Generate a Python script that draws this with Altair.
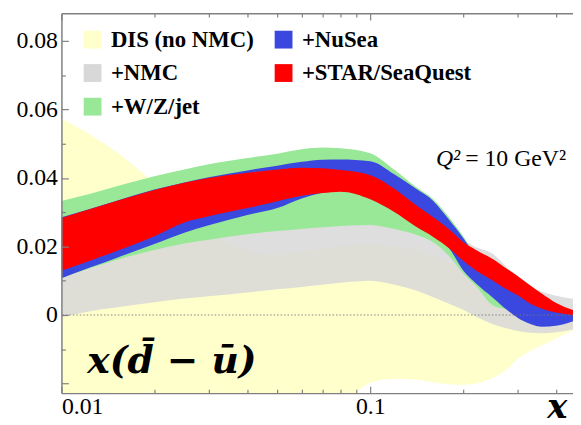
import altair as alt
import pandas as pd

# ---------------- data ----------------
X = [0.01, 0.0125, 0.015, 0.02, 0.025, 0.03, 0.04, 0.05, 0.06, 0.07, 0.08, 0.1,
     0.12, 0.14, 0.16, 0.18, 0.2, 0.22, 0.25, 0.28, 0.3, 0.33, 0.36, 0.4, 0.46]

DIS_LO = [-0.030, -0.030, -0.030, -0.030, -0.030, -0.030, -0.030, -0.030, -0.030, -0.030,
          -0.0265, -0.0198, -0.0186, -0.0188, -0.0196, -0.0202, -0.0204, -0.0200, -0.0183,
          -0.0155, -0.0128, -0.0105, -0.0088, -0.0068, -0.0042]
DIS_HI = [0.0573, 0.0525, 0.0477, 0.0385, 0.0310, 0.0245, 0.0188, 0.0174, 0.0183, 0.0195,
          0.0202, 0.0206, 0.0198, 0.0190, 0.0172, 0.0153, 0.0125, 0.0095, 0.0055, 0.0025,
          0.0010, -0.0005, -0.0012, -0.0012, -0.0010]

NMC_LO = [-0.0006, 0.0012, 0.0022, 0.0037, 0.0048, 0.0055, 0.0066, 0.0075, 0.0082, 0.0088,
          0.0094, 0.0100, 0.0088, 0.0072, 0.0052, 0.0033, 0.0015, -0.0005, -0.0027, -0.0040,
          -0.0047, -0.0052, -0.0053, -0.0050, -0.0041]
NMC_HI = [0.0120, 0.0140, 0.0160, 0.0192, 0.0212, 0.0226, 0.0242, 0.0250, 0.0256, 0.0260,
          0.0263, 0.0266, 0.0260, 0.0245, 0.0226, 0.0218, 0.0215, 0.0198, 0.0178, 0.0135,
          0.0110, 0.0085, 0.0068, 0.0056, 0.0047]

WZ_LO = [0.0108, 0.0138, 0.0160, 0.0190, 0.0209, 0.0220, 0.0236, 0.0245, 0.0251, 0.0256,
         0.0260, 0.0263, 0.0251, 0.0235, 0.0212, 0.0172, 0.0122, 0.0085, 0.0028, 0.0015,
         0.0000, -0.0010, -0.0015, -0.0015, -0.0010]
WZ_HI = [0.0333, 0.0355, 0.0375, 0.0405, 0.0425, 0.0440, 0.0458, 0.0471, 0.0484, 0.0489,
         0.0487, 0.0472, 0.0423, 0.0375, 0.0338, 0.0285, 0.0230, 0.0175, 0.0125, 0.0085,
         0.0065, 0.0040, 0.0025, 0.0012, 0.0000]

NUSEA_LO = [0.0107, 0.0140, 0.0166, 0.0207, 0.0240, 0.0262, 0.0292, 0.0312, 0.0340, 0.0357,
            0.0365, 0.0345, 0.0305, 0.0265, 0.0232, 0.0195, 0.0130, 0.0092, 0.0050, 0.0012,
            -0.0008, -0.0026, -0.0034, -0.0031, -0.0016]
NUSEA_HI = [0.0285, 0.0311, 0.0333, 0.0366, 0.0387, 0.0402, 0.0422, 0.0436, 0.0447, 0.0453,
            0.0454, 0.0449, 0.0410, 0.0370, 0.0333, 0.0278, 0.0225, 0.0170, 0.0120, 0.0090,
            0.0075, 0.0050, 0.0035, 0.0020, 0.0008]

STAR_LO = [0.0129, 0.0160, 0.0186, 0.0230, 0.0270, 0.0288, 0.0312, 0.0332, 0.0348, 0.0356,
           0.0360, 0.0338, 0.0300, 0.0259, 0.0228, 0.0195, 0.0158, 0.0130, 0.0100, 0.0072,
           0.0058, 0.0033, 0.0018, 0.0007, -0.0001]
STAR_HI = [0.0283, 0.0310, 0.0332, 0.0365, 0.0386, 0.0400, 0.0415, 0.0425, 0.0430, 0.0428,
           0.0423, 0.0408, 0.0368, 0.0322, 0.0285, 0.0250, 0.0213, 0.0190, 0.0163, 0.0132,
           0.0114, 0.0086, 0.0062, 0.0035, 0.0013]

# legend order (filled column by column: 3 + 2)
SERIES = ["DIS (no NMC)", "+NMC", "+W/Z/jet", "+NuSea", "+STAR/SeaQuest"]
COLORS = ["#FFFFCC", "#D8D8D8", "#98E898", "#3A48E0", "#FF0000"]

Y_LABELS = [0, 0.02, 0.04, 0.06, 0.08]
Y_MAJOR = [-0.02, 0, 0.02, 0.04, 0.06, 0.08]
Y_MINOR = [-0.01, 0.01, 0.03, 0.05, 0.07]
X_MAJOR = [0.01, 0.1]
X_MINOR = [0.02, 0.03, 0.04, 0.05, 0.06, 0.07, 0.08, 0.09, 0.2, 0.3, 0.4]

SERIF = "Liberation Serif, serif"
W, H = 517, 384

xscale = alt.Scale(type="log", domain=[0.01, 0.4535], nice=False)
yscale = alt.Scale(domain=[-0.0228, 0.0881], nice=False, zero=False)
cscale = alt.Scale(domain=SERIES, range=COLORS)

legend = alt.Legend(
    orient="none", legendX=20, legendY=15, columns=2, title=None,
    symbolType="square", symbolSize=324, symbolStrokeWidth=0, symbolOpacity=1,
    labelFont=SERIF, labelFontWeight="bold", labelFontSize=23,
    labelColor="black", labelOffset=7, labelLimit=0,
    rowPadding=10, columnPadding=18, padding=0,
)

AX = dict(domainColor="#808080", tickColor="#808080", domainWidth=1.5,
          tickWidth=1.2, grid=False, title=None, zindex=1)

x_lab = alt.Axis(orient="bottom", values=X_MAJOR, ticks=False, domain=True,
                 labelExpr="format(datum.value, '~g')", labelFont=SERIF,
                 labelFontSize=24, labelColor="black", labelPadding=2, **AX)
x_in_major = alt.Axis(orient="top", offset=-H, values=X_MAJOR, labels=False,
                      domain=False, tickSize=7, **AX)
x_in_minor = alt.Axis(orient="top", offset=-H, values=X_MINOR, labels=False,
                      domain=False, tickSize=4, **AX)
x_top_major = alt.Axis(orient="bottom", offset=-H, values=X_MAJOR, labels=False,
                       domain=True, tickSize=7, **AX)
x_top_minor = alt.Axis(orient="bottom", offset=-H, values=X_MINOR, labels=False,
                       domain=False, tickSize=4, **AX)

y_lab = alt.Axis(orient="left", values=Y_LABELS, ticks=False, domain=True,
                 labelExpr="datum.value == 0 ? '0' : format(datum.value, '.2f')",
                 labelFont=SERIF, labelFontSize=24, labelColor="black",
                 labelPadding=4, **AX)
y_in_major = alt.Axis(orient="right", offset=-W, values=Y_MAJOR, labels=False,
                      domain=False, tickSize=7, **AX)
y_in_minor = alt.Axis(orient="right", offset=-W, values=Y_MINOR, labels=False,
                      domain=False, tickSize=4, **AX)


def band(name, lo, hi, xaxis, yaxis, opacity=1.0):
    df = pd.DataFrame({"x": X, "lo": lo, "hi": hi, "series": name})
    return alt.Chart(df).mark_area(clip=True, interpolate="monotone", opacity=opacity).encode(
        x=alt.X("x:Q", scale=xscale, axis=xaxis),
        y=alt.Y("lo:Q", scale=yscale, axis=yaxis),
        y2="hi:Q",
        color=alt.Color("series:N", scale=cscale, legend=legend),
    )


l_dis = band("DIS (no NMC)", DIS_LO, DIS_HI, x_lab, y_lab)
l_nmc = band("+NMC", NMC_LO, NMC_HI, x_in_major, y_in_major, opacity=0.85)
l_wz = band("+W/Z/jet", WZ_LO, WZ_HI, x_in_minor, y_in_minor)
l_nusea = band("+NuSea", NUSEA_LO, NUSEA_HI, x_top_major, None)
l_star = band("+STAR/SeaQuest", STAR_LO, STAR_HI, x_top_minor, None)

zero = alt.Chart(pd.DataFrame({"y": [0.0]})).mark_rule(
    color="#777777", strokeWidth=0.9, strokeDash=[1.5, 2]
).encode(y=alt.Y("y:Q", scale=yscale, axis=None))


def label(x, y, t, **kw):
    df = pd.DataFrame({"x": [x], "y": [y], "t": [t]})
    return alt.Chart(df).mark_text(**kw).encode(
        x=alt.X("x:Q", scale=xscale, axis=None),
        y=alt.Y("y:Q", scale=yscale, axis=None),
        text="t:N",
    )


q_a = label(0.2, 0.0435, "Q²", font=SERIF, fontStyle="italic", fontSize=24,
            align="right", baseline="alphabetic", dx=-3, color="black")
q_b = label(0.2, 0.0435, "= 10 GeV²", font=SERIF, fontSize=24,
            align="left", baseline="alphabetic", dx=2, color="black")
big = label(0.01212, -0.0170, "x(d\u0304 − ū)", font="DejaVu Serif, serif", fontStyle="italic",
            fontWeight="bold", fontSize=38, align="left", baseline="alphabetic", color="black")
xl = label(0.4035, -0.0272, "x", font="DejaVu Serif, serif", fontStyle="italic", fontWeight="bold",
           fontSize=34, align="center", baseline="middle", color="black")

chart = alt.layer(l_dis, l_nmc, l_wz, l_nusea, l_star, zero, q_a, q_b, big, xl).resolve_axis(
    x="independent", y="independent"
).properties(
    width=W, height=H,
    padding={"left": 54, "top": 3, "right": 0, "bottom": 30},
    autosize=alt.AutoSizeParams(type="none"),
).configure_view(stroke=None)

chart.save("out.html", embed_options={"renderer": "svg", "actions": False})
